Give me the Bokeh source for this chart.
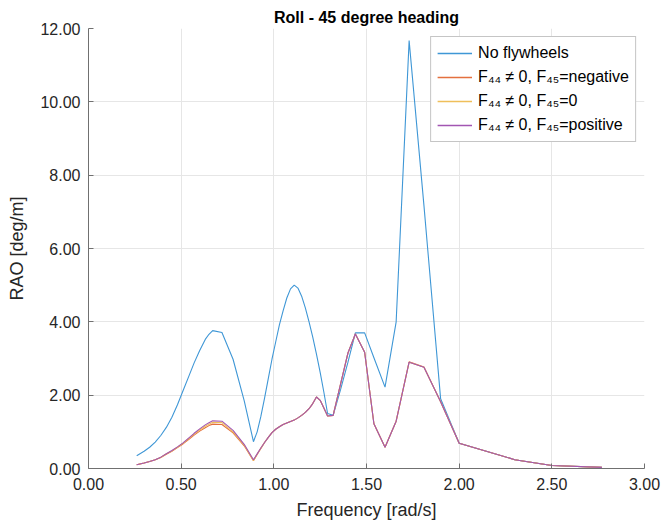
from bokeh.plotting import figure
from bokeh.models import Range1d, FixedTicker, Legend, LegendItem, NumeralTickFormatter
from bokeh.embed import file_html
from bokeh.resources import INLINE

freq = [0.26, 0.30, 0.33, 0.36, 0.39, 0.42, 0.45, 0.48, 0.51, 0.54,
        0.57, 0.60, 0.63, 0.65, 0.67, 0.72, 0.78, 0.84, 0.89, 0.91,
        0.93, 0.95, 0.97, 0.99, 1.01, 1.03, 1.05, 1.07, 1.09, 1.11,
        1.13, 1.15, 1.17, 1.19, 1.21, 1.23, 1.25, 1.27, 1.29, 1.32,
        1.36, 1.40, 1.44, 1.49, 1.54, 1.60, 1.66, 1.73, 1.81, 1.90,
        2.00, 2.30, 2.50, 2.77]

no_flywheels = [0.35, 0.47, 0.58, 0.72, 0.90, 1.12, 1.40, 1.74, 2.12, 2.50,
                2.88, 3.22, 3.52, 3.66, 3.76, 3.71, 2.98, 1.85, 0.73, 1.00,
                1.42, 1.92, 2.45, 2.98, 3.45, 3.92, 4.30, 4.65, 4.90, 5.00,
                4.92, 4.70, 4.38, 4.00, 3.58, 3.12, 2.62, 2.08, 1.50, 1.45,
                2.15, 2.90, 3.70, 3.70, 3.02, 2.22, 4.00, 11.67, 7.17, 1.90,
                0.69, 0.24, 0.08, 0.03]

f45_negative = [0.10, 0.15, 0.19, 0.24, 0.30, 0.39, 0.47, 0.57, 0.67, 0.79,
                0.91, 1.02, 1.11, 1.17, 1.21, 1.20, 0.97, 0.62, 0.21, 0.38,
                0.55, 0.71, 0.85, 0.98, 1.07, 1.14, 1.20, 1.24, 1.28, 1.32,
                1.38, 1.45, 1.53, 1.63, 1.77, 1.95, 1.86, 1.65, 1.43, 1.45,
                2.30, 3.15, 3.67, 3.17, 1.22, 0.58, 1.29, 2.91, 2.77, 1.82,
                0.69, 0.24, 0.08, 0.03]

f45_zero = [0.10, 0.15, 0.19, 0.24, 0.30, 0.40, 0.48, 0.58, 0.69, 0.81,
            0.94, 1.05, 1.15, 1.21, 1.26, 1.25, 1.00, 0.64, 0.22, 0.39,
            0.55, 0.71, 0.85, 0.98, 1.07, 1.14, 1.20, 1.24, 1.28, 1.32,
            1.38, 1.45, 1.53, 1.63, 1.77, 1.95, 1.86, 1.65, 1.43, 1.45,
            2.30, 3.15, 3.67, 3.17, 1.22, 0.58, 1.29, 2.90, 2.76, 1.82,
            0.69, 0.24, 0.08, 0.03]

f45_positive = [0.10, 0.15, 0.19, 0.24, 0.31, 0.40, 0.49, 0.59, 0.70, 0.83,
                0.96, 1.08, 1.19, 1.25, 1.30, 1.29, 1.04, 0.66, 0.24, 0.40,
                0.56, 0.71, 0.85, 0.98, 1.07, 1.14, 1.20, 1.24, 1.28, 1.32,
                1.38, 1.45, 1.53, 1.63, 1.77, 1.95, 1.86, 1.65, 1.43, 1.45,
                2.30, 3.15, 3.67, 3.17, 1.22, 0.58, 1.29, 2.90, 2.76, 1.82,
                0.69, 0.24, 0.08, 0.03]

labels = ["No flywheels", "F\u2084\u2084 \u2260 0, F\u2084\u2085=negative",
          "F\u2084\u2084 \u2260 0, F\u2084\u2085=0", "F\u2084\u2084 \u2260 0, F\u2084\u2085=positive"]
colors = ["#3f97d6", "#e4703f", "#efbf5a", "#a256b2"]

x_ticks = [0.0, 0.5, 1.0, 1.5, 2.0, 2.5, 3.0]
y_ticks = [0, 2, 4, 6, 8, 10, 12]

FONT = "Liberation Sans"

p = figure(width=661, height=523, output_backend="svg", toolbar_location=None,
           x_range=Range1d(0, 3), y_range=Range1d(0, 12),
           title="Roll - 45 degree heading",
           min_border_left=88, min_border_right=17, min_border_top=28, min_border_bottom=55)
p.outline_line_color = None
p.background_fill_color = "white"
p.border_fill_color = "white"

p.title.align = "center"
p.title.text_font = FONT
p.title.text_font_size = "16px"
p.title.text_font_style = "bold"
p.title.text_color = "#000000"
p.title.standoff = 6

series = [no_flywheels, f45_negative, f45_zero, f45_positive]
legend_renderers = []
for ys, c in zip(series, colors):
    p.line(freq, ys, line_color=c, line_width=1.1)
    # legend sample line: lies outside the visible ranges, so only the legend shows it
    legend_renderers.append(p.line([-2, -1], [-2, -1], line_color=c, line_width=1.4))

for ax in (p.xaxis[0], p.yaxis[0]):
    ax.axis_line_color = "#707070"
    ax.major_tick_line_color = "#707070"
    ax.major_tick_in = 5
    ax.major_tick_out = 0
    ax.minor_tick_line_color = None
    ax.major_label_text_font = FONT
    ax.major_label_text_font_size = "16px"
    ax.major_label_text_color = "#262626"
    ax.axis_label_text_font = FONT
    ax.axis_label_text_font_size = "18px"
    ax.axis_label_text_font_style = "normal"
    ax.axis_label_text_color = "#262626"

p.xaxis.ticker = FixedTicker(ticks=x_ticks)
p.yaxis.ticker = FixedTicker(ticks=y_ticks)
p.xaxis.formatter = NumeralTickFormatter(format="0.00")
p.yaxis.formatter = NumeralTickFormatter(format="0.00")
p.xaxis.axis_label = "Frequency [rad/s]"
p.yaxis.axis_label = "RAO [deg/m]"
p.xaxis.major_label_standoff = 9
p.yaxis.major_label_standoff = 8
p.xaxis.axis_label_standoff = 7
p.yaxis.axis_label_standoff = 10

p.xgrid.grid_line_color = "#e6e6e6"
p.ygrid.grid_line_color = "#e6e6e6"
p.xgrid.ticker = FixedTicker(ticks=x_ticks)
p.ygrid.ticker = FixedTicker(ticks=y_ticks)

legend = Legend(items=[LegendItem(label=l, renderers=[r]) for l, r in zip(labels, legend_renderers)],
                location="top_right")
legend.margin = 8
legend.padding = 6
legend.spacing = 4
legend.label_height = 20
legend.glyph_height = 20
legend.glyph_width = 35
legend.label_standoff = 6
legend.label_text_font = FONT
legend.label_text_font_size = "16px"
legend.label_text_color = "#000000"
legend.border_line_color = "#8c8c8c"
legend.border_line_width = 1
legend.background_fill_color = "white"
legend.background_fill_alpha = 1
p.add_layout(legend)

open("out.html", "w").write(file_html(p, INLINE))
